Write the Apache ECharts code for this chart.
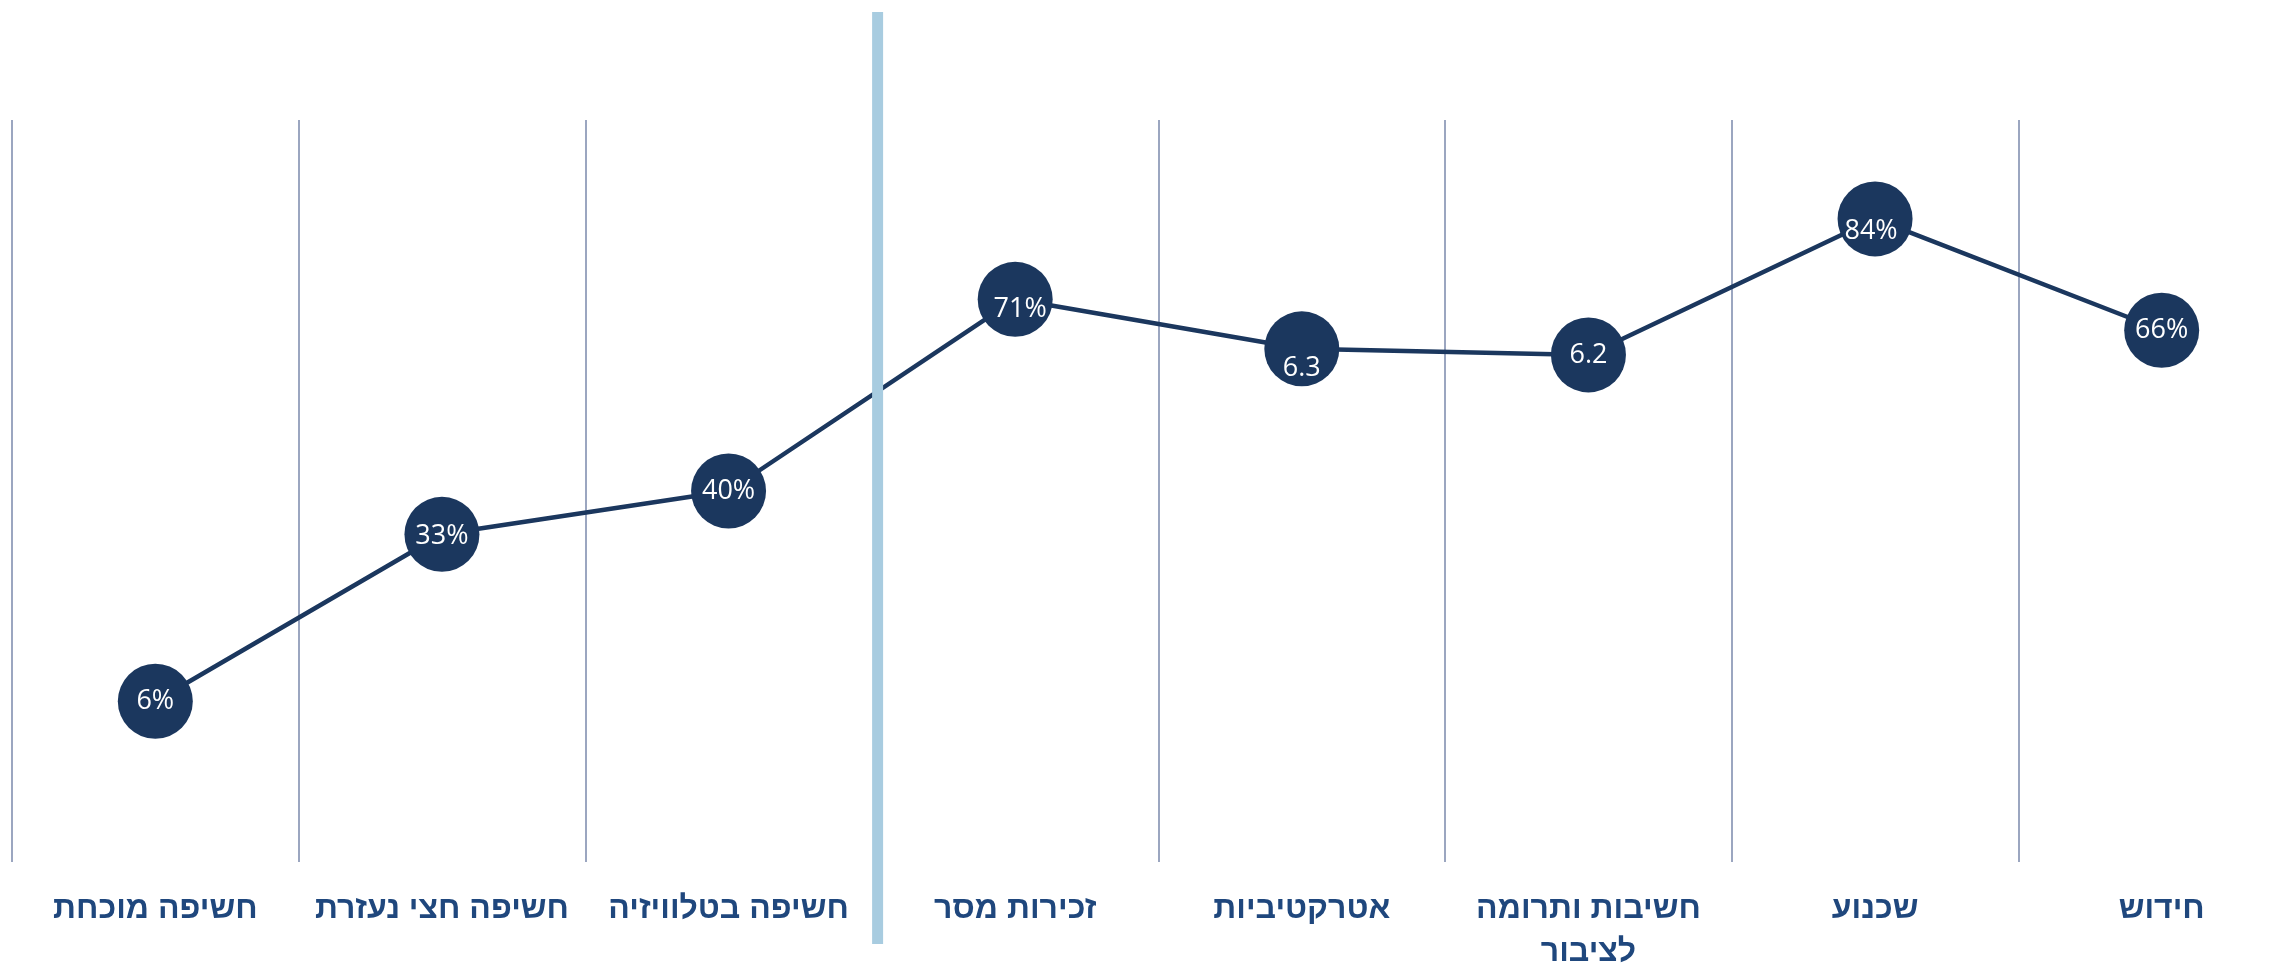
<!DOCTYPE html>
<html>
<head>
<meta charset="utf-8">
<script src="https://cdn.jsdelivr.net/npm/echarts@6/dist/echarts.min.js"></script>
<style>
html,body{margin:0;padding:0;background:#fff;}
#chart{width:2291px;height:968px;}
</style>
</head>
<body>
<div id="chart"></div>
<script>
// Categories, left to right
const categories = ['חשיפה מוכחת','חשיפה חצי נעזרת','חשיפה בטלוויזיה','זכירות מסר','אטרקטיביות','חשיבות ותרומה לציבור','שכנוע','חידוש'];
// Plotted values (percent; 1-10 scores shown as x10)
const values = [6, 33, 40, 71, 63, 62, 84, 66];
// Displayed labels
const valueLabels = ['6%','33%','40%','71%','6.3','6.2','84%','66%'];
// Divider between exposure measures and message measures (in category units)
const dividerAt = 3.02;

// label nudges (style only)
const labelNudge = [[0,0],[0,2],[0,0],[5,10],[0,20],[0,0],[-4,12],[0,0]];

const navy = '#1b375e';
const chart = echarts.init(document.getElementById('chart'));
const gridLeft = 12, gridWidth = 2293;

function wrapLabel(v) {
  if (v.length > 16) {
    const i = v.lastIndexOf(' ');
    return v.slice(0, i) + '\n' + v.slice(i + 1);
  }
  return v;
}

chart.setOption({
  animation: false,
  backgroundColor: '#ffffff',
  grid: [
    {left: gridLeft, width: gridWidth, top: 120, height: 742, outerBoundsMode: 'none', containLabel: false},
    {left: gridLeft, width: gridWidth, top: 12, height: 932, outerBoundsMode: 'none', containLabel: false}
  ],
  xAxis: [
    {
      type: 'category', gridIndex: 0, data: categories, boundaryGap: true,
      axisLine: {show: false}, axisTick: {show: false},
      axisLabel: {
        color: '#1f477d', fontFamily: 'Liberation Sans, Arial, sans-serif',
        fontWeight: 'bold', fontSize: 32, lineHeight: 43, margin: 26,
        interval: 0, hideOverlap: false,
        formatter: wrapLabel
      },
      splitLine: {
        show: true,
        interval: function (index) { return index !== 3; },
        lineStyle: {color: '#9ba6c0', width: 2}
      }
    },
    {type: 'value', gridIndex: 1, min: 0, max: 8, show: false}
  ],
  yAxis: [
    {type: 'value', gridIndex: 0, min: -20, max: 100, show: false},
    {type: 'value', gridIndex: 1, min: 0, max: 1, show: false}
  ],
  series: [
    {
      type: 'line', xAxisIndex: 0, yAxisIndex: 0, z: 2,
      data: values.map((v, i) => ({
        value: v,
        label: {offset: labelNudge[i]}
      })),
      symbol: 'circle', symbolSize: 75,
      itemStyle: {color: navy},
      lineStyle: {color: navy, width: 4.5},
      label: {
        show: true, position: 'inside', color: '#ffffff',
        fontFamily: 'Open Sans, sans-serif', fontSize: 27,
        formatter: p => valueLabels[p.dataIndex]
      }
    },
    {
      type: 'line', xAxisIndex: 1, yAxisIndex: 1, z: 5,
      data: [[dividerAt, 0], [dividerAt, 1]],
      symbol: 'none',
      lineStyle: {color: '#a8cce0', width: 11}
    }
  ]
});
</script>
</body>
</html>
